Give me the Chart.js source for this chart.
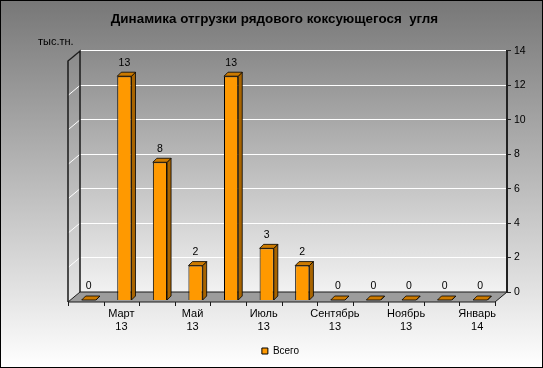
<!DOCTYPE html>
<html>
<head>
<meta charset="utf-8">
<script src="https://cdn.jsdelivr.net/npm/chart.js@4"></script>
<style>
  html, body { margin: 0; padding: 0; }
  #wrap { width: 543px; height: 368px; position: relative; }
</style>
</head>
<body>
<div id="wrap"><canvas id="coal_chart"></canvas></div>
<script>
const months_list = ['Февраль', 'Март', 'Апрель', 'Май', 'Июнь', 'Июль', 'Август', 'Сентябрь', 'Октябрь', 'Ноябрь', 'Декабрь', 'Январь']
const years_list = ['13', '13', '13', '13', '13', '13', '13', '13', '13', '13', '13', '14']
const total_list = [0, 13, 8, 2, 13, 3, 2, 0, 0, 0, 0, 0]
const series_label = 'Всего'
const unit_label = 'тыс.тн.'
const title_text = 'Динамика отгрузки рядового коксующегося  угля'

const FONT = "'Liberation Sans', Arial, sans-serif"
Chart.defaults.font.family = FONT
Chart.defaults.color = '#000'

// 3d look: wall depth and bar offset
const WALL_DX = 12, WALL_DY = 10
const BAR_SHIFT_X = -9, BAR_SHIFT_Y = 8
const BAR_DX = 4, BAR_DY = 4

const box3d = {
    id: 'box3d',
    afterLayout(chart) {
        // legend in the original sits a bit right of centre
        if (chart.legend) {
            chart.legend.left += 6
            chart.legend.right += 6
        }
    },
    beforeDraw(chart) {
        const {ctx, width, height, chartArea: a} = chart
        ctx.save()
        let g = ctx.createLinearGradient(0, 0, 0, height)
        g.addColorStop(0, '#777777')
        g.addColorStop(1, '#ffffff')
        ctx.fillStyle = g
        ctx.fillRect(0, 0, width, height)
        g = ctx.createLinearGradient(0, a.top, 0, a.bottom)
        g.addColorStop(0, '#8a8a8a')
        g.addColorStop(1, '#f2f2f2')
        ctx.fillStyle = g
        ctx.fillRect(a.left, a.top, a.right - a.left, a.bottom - a.top)
        ctx.restore()
    },
    beforeDatasetsDraw(chart) {
        const {ctx, chartArea: a} = chart
        const y = chart.scales.y, x = chart.scales.x
        ctx.save()
        // gridlines on the left wall
        ctx.strokeStyle = '#ffffff'
        ctx.lineWidth = 1
        y.ticks.forEach(t => {
            const py = y.getPixelForValue(t.value)
            ctx.beginPath()
            ctx.moveTo(a.left - WALL_DX, py + WALL_DY)
            ctx.lineTo(a.left, py)
            ctx.stroke()
        })
        ctx.strokeStyle = '#1a1a1a'
        ctx.lineWidth = 1.5
        ctx.beginPath()
        ctx.moveTo(a.left, a.bottom)
        ctx.lineTo(a.left, a.top)
        ctx.lineTo(a.left - WALL_DX, a.top + WALL_DY)
        ctx.lineTo(a.left - WALL_DX, a.bottom + WALL_DY)
        ctx.stroke()
        // floor
        ctx.beginPath()
        ctx.moveTo(a.left, a.bottom)
        ctx.lineTo(a.right, a.bottom)
        ctx.lineTo(a.right - WALL_DX, a.bottom + WALL_DY)
        ctx.lineTo(a.left - WALL_DX, a.bottom + WALL_DY)
        ctx.closePath()
        ctx.fillStyle = '#9c9c9c'
        ctx.fill()
        ctx.lineWidth = 1
        ctx.stroke()
        // category ticks on front edge
        const cw = x.getPixelForValue(1) - x.getPixelForValue(0)
        const x0 = x.getPixelForValue(0) - cw / 2
        for (let i = 0; i <= total_list.length; i++) {
            const bx = Math.round(x0 + i * cw - WALL_DX) + 0.5
            ctx.beginPath()
            ctx.moveTo(bx, a.bottom + WALL_DY)
            ctx.lineTo(bx, a.bottom + WALL_DY + 4)
            ctx.stroke()
        }
        ctx.restore()
        ctx.save()
        ctx.translate(BAR_SHIFT_X, BAR_SHIFT_Y)
    },
    afterDatasetsDraw(chart) {
        const {ctx, width, height} = chart
        const meta = chart.getDatasetMeta(0)
        ctx.lineWidth = 0.8
        ctx.strokeStyle = '#000'
        meta.data.forEach((el, i) => {
            const {x, y, base, width: w} = el.getProps(['x', 'y', 'base', 'width'], true)
            const l = x - w / 2, r = x + w / 2
            // side
            ctx.beginPath()
            ctx.moveTo(r, y)
            ctx.lineTo(r + BAR_DX, y - BAR_DY)
            ctx.lineTo(r + BAR_DX, base - BAR_DY)
            ctx.lineTo(r, base)
            ctx.closePath()
            ctx.fillStyle = '#a86400'
            ctx.fill()
            ctx.stroke()
            // top
            ctx.beginPath()
            ctx.moveTo(l, y)
            ctx.lineTo(r, y)
            ctx.lineTo(r + BAR_DX, y - BAR_DY)
            ctx.lineTo(l + BAR_DX, y - BAR_DY)
            ctx.closePath()
            ctx.fillStyle = '#cc7a00'
            ctx.fill()
            ctx.stroke()
            // value
            ctx.fillStyle = '#000'
            ctx.font = `10.5px ${FONT}`
            ctx.textAlign = 'center'
            ctx.textBaseline = 'middle'
            ctx.fillText(String(total_list[i]), x, y - 13.5)
        })
        ctx.restore()

        ctx.save()
        ctx.fillStyle = '#000'
        ctx.font = `11px ${FONT}`
        ctx.textAlign = 'left'
        ctx.textBaseline = 'middle'
        ctx.fillText(unit_label, 38, 42)
        ctx.strokeStyle = '#000'
        ctx.lineWidth = 1
        ctx.strokeRect(0.5, 0.5, width - 1, height - 1)
        ctx.restore()
    }
}

const ctx1 = document.getElementById('coal_chart').getContext('2d')
const chart1 = new Chart(ctx1, {
    type: 'bar',
    data: {
        labels: months_list.map((m, i) => [m, years_list[i]]),
        datasets: [{
            label: series_label,
            data: total_list,
            backgroundColor: '#ff9900',
            borderColor: '#000',
            borderWidth: 1,
            barPercentage: 0.4,
            categoryPercentage: 1,
            clip: false
        }]
    },
    options: {
        responsive: true,
        maintainAspectRatio: false,
        animation: false,
        devicePixelRatio: 1,
        layout: {padding: {left: 16, right: 10, top: 0, bottom: 2}},
        plugins: {
            title: {
                display: true,
                text: title_text,
                font: {size: 13.4, weight: 'bold'},
                color: '#000',
                padding: {top: 11, bottom: 23.9}
            },
            legend: {
                position: 'bottom',
                labels: {boxWidth: 6, boxHeight: 6, font: {size: 10}, color: '#000', padding: 10}
            },
            tooltip: {enabled: false}
        },
        scales: {
            x: {
                grid: {display: false, drawTicks: false},
                border: {display: false},
                ticks: {
                    autoSkip: false,
                    maxRotation: 0,
                    padding: 15,
                    labelOffset: -12,
                    font: {size: 11},
                    color: '#000',
                    callback: function (v, i) {
                        return i % 2 === 1 ? this.getLabelForValue(v) : ''
                    }
                },
                afterFit: s => { s.height = 44 }
            },
            yLeft: {
                position: 'left',
                display: true,
                grid: {display: false, drawTicks: false},
                border: {display: false},
                ticks: {display: false},
                afterFit: s => { s.width = 64 }
            },
            y: {
                position: 'right',
                min: 0,
                max: 14,
                ticks: {stepSize: 2, padding: 3, font: {size: 10.5}, color: '#000'},
                grid: {color: '#ffffff', lineWidth: 1, tickColor: '#222', tickLength: 4},
                border: {display: true, color: '#222', width: 2},
                afterFit: s => { s.width = 26 }
            }
        }
    },
    plugins: [box3d]
})
console.log('chart drawn', chart1.chartArea)
</script>
</body>
</html>
